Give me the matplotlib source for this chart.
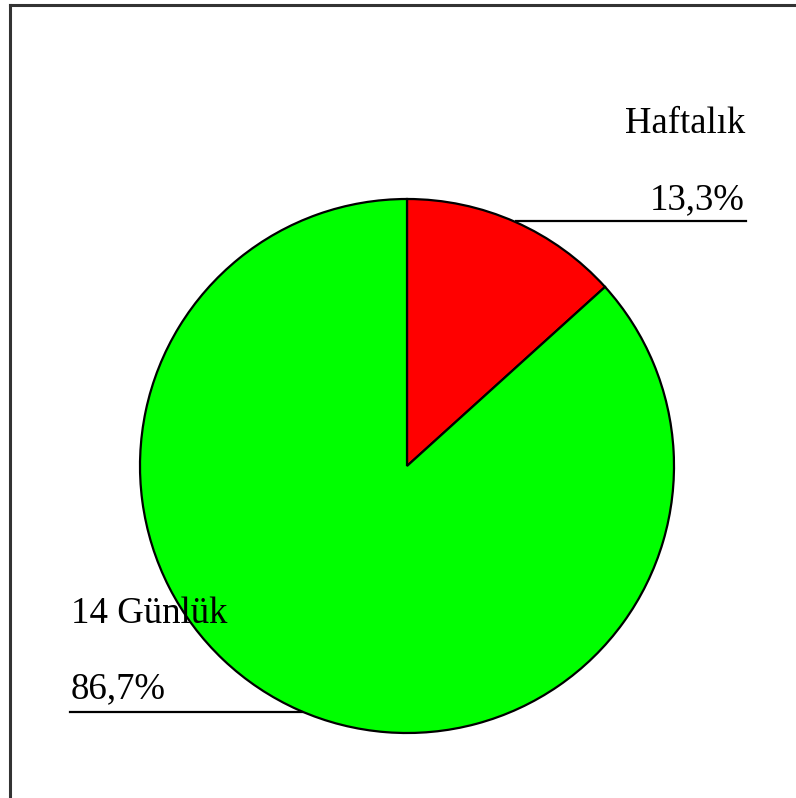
import matplotlib
matplotlib.use("Agg")
import matplotlib.pyplot as plt

# data
labels = ["Haftalık", "14 Günlük"]
values = [13.3, 86.7]
pct_text = ["13,3%", "86,7%"]
colors = ["#ff0000", "#00ff00"]

W, H = 796, 798
fig = plt.figure(figsize=(W / 100, H / 100), dpi=100)
ax = fig.add_axes([0, 0, 1, 1])
ax.set_xlim(0, W)
ax.set_ylim(0, H)
ax.set_aspect("equal")
ax.axis("off")

# outer frame (only top and left visible)
ax.plot([9.5, 9.5], [-10, H - 4.5], color="#333333", lw=2.2)
ax.plot([9.5, W + 10], [H - 4.5, H - 4.5], color="#333333", lw=2.2)

cx, cy, r = 407, H - 466, 267
ax.pie(values, colors=colors, startangle=90, counterclock=False,
       center=(cx, cy), radius=r, frame=True,
       wedgeprops=dict(edgecolor="black", linewidth=1.6))
ax.set_xlim(0, W)
ax.set_ylim(0, H)
ax.axis("off")

font = dict(family="Liberation Serif", size=26.5, color="black")

# Haftalık label, right aligned
ax.text(745, H - 133, labels[0], ha="right", va="baseline", **font)
ax.text(745, H - 209, pct_text[0], ha="right", va="baseline", **font)
ax.plot([516, 746], [H - 221, H - 221], color="black", lw=1.6)

# 14 Günlük label, left aligned
ax.text(71, H - 623, labels[1], ha="left", va="baseline", **font)
ax.text(71, H - 698, pct_text[1], ha="left", va="baseline", **font)
ax.plot([70, 302], [H - 712, H - 712], color="black", lw=1.6)

fig.savefig("out.png", dpi=100)
